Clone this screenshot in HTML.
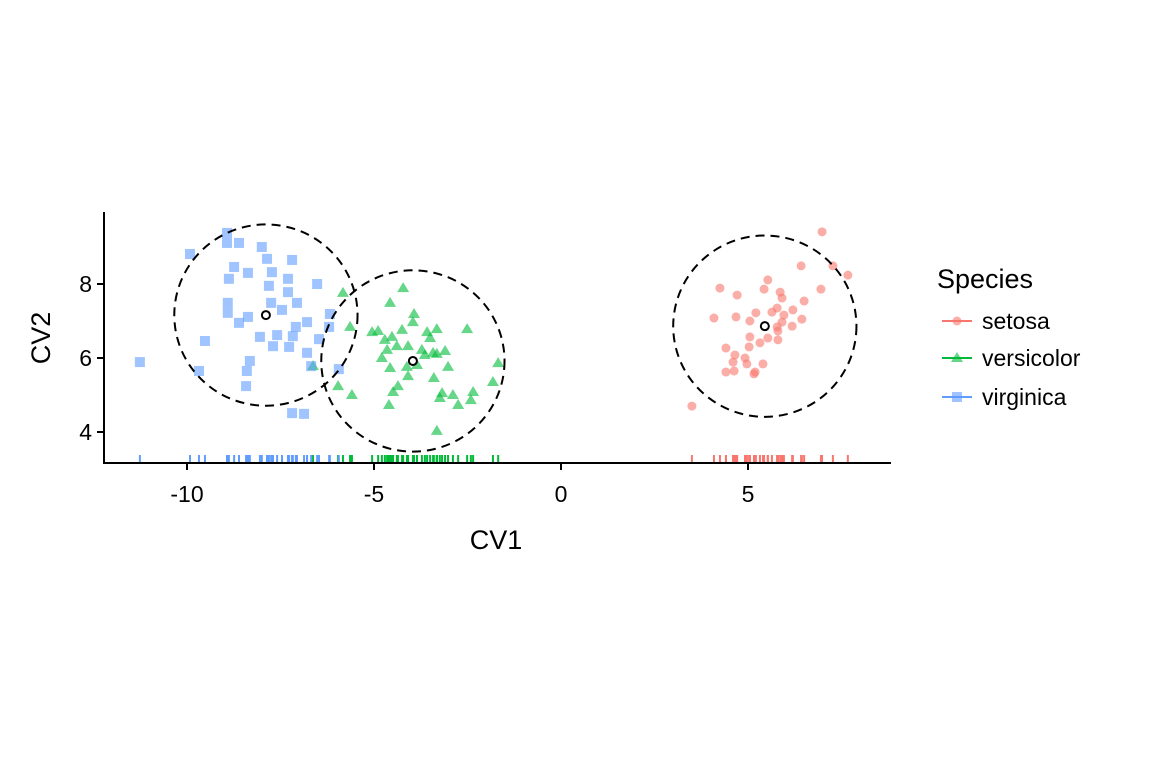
<!DOCTYPE html>
<html><head><meta charset="utf-8"><style>
body{margin:0;background:#fff}
svg text{font-family:"Liberation Sans",Arial,sans-serif;fill:#000}
</style></head><body>
<svg id="chart" width="1152" height="768" xmlns="http://www.w3.org/2000/svg">
<g id="marks"></g>
<g id="axes"></g>
<text x="496" y="549" font-size="27" text-anchor="middle">CV1</text>
<text transform="translate(50,338) rotate(-90)" font-size="27" text-anchor="middle">CV2</text>
<g>
<text x="937" y="288" font-size="27">Species</text>
<g>
<line x1="942" x2="972" y1="321" y2="321" stroke="#F8766D" stroke-width="2"/><circle cx="957" cy="321" r="4.5" fill="#F8766D" opacity="0.6"/>
<text x="982" y="329" font-size="23">setosa</text></g>
<g>
<line x1="942" x2="972" y1="358" y2="358" stroke="#00BA38" stroke-width="2"/><polygon points="957,352 963,362 951,362" fill="#00BA38" opacity="0.6"/>
<text x="982" y="366" font-size="23">versicolor</text></g>
<g>
<line x1="942" x2="972" y1="397" y2="397" stroke="#619CFF" stroke-width="2"/><rect x="952" y="392" width="10" height="10" fill="#619CFF" opacity="0.6"/>
<text x="982" y="405" font-size="23">virginica</text></g>
</g>
</svg>
<script>
const setosaX=[6.98,6.42,7.27,7.67,5.53,4.25,5.43,6.95,4.71,5.86,5.91,6.50,5.21,5.64,5.78,6.20,5.96,4.09,4.68,5.05,6.44,5.91,6.18,5.78,5.80,5.53,5.05,5.32,5.80,5.03,4.41,4.65,4.92,4.60,4.97,5.40,4.41,4.63,5.19,5.16,3.50];
const setosaY=[9.41,8.49,8.49,8.24,8.11,7.89,7.86,7.86,7.70,7.78,7.62,7.54,7.22,7.24,7.35,7.30,7.16,7.08,7.11,7.00,7.05,6.97,6.86,6.84,6.73,6.54,6.57,6.41,6.49,6.30,6.27,6.08,6.00,5.89,5.84,5.84,5.62,5.65,5.62,5.57,4.70];
const versiX=[-4.22,-5.83,-4.57,-3.93,-3.96,-5.64,-5.05,-4.89,-4.25,-3.58,-3.32,-2.51,-4.71,-4.52,-3.50,-4.39,-4.09,-3.72,-3.42,-3.10,-4.65,-4.79,-3.64,-3.32,-6.63,-4.57,-4.12,-3.85,-3.02,-1.68,-4.09,-3.40,-1.82,-5.96,-4.36,-4.49,-5.59,-3.18,-2.89,-2.35,-3.24,-2.41,-2.75,-4.60,-3.32];
const versiY=[7.89,7.76,7.49,7.19,6.97,6.84,6.70,6.73,6.76,6.70,6.78,6.78,6.49,6.57,6.54,6.32,6.32,6.22,6.14,6.19,6.22,6.00,6.08,6.11,5.78,5.73,5.76,5.81,5.76,5.86,5.51,5.46,5.35,5.24,5.24,5.08,5.00,5.05,5.00,5.08,4.92,4.86,4.73,4.73,4.03];
const virgX=[-8.93,-8.93,-8.61,-9.92,-8.00,-7.86,-7.19,-8.74,-8.37,-7.73,-8.88,-7.30,-6.52,-7.81,-7.30,-8.91,-7.75,-7.06,-8.91,-7.46,-8.37,-8.61,-6.79,-6.18,-7.09,-6.20,-8.05,-7.59,-7.17,-9.52,-6.47,-7.70,-7.27,-6.79,-8.32,-11.26,-9.68,-8.40,-6.68,-5.94,-8.42,-7.19,-6.87];
const virgY=[9.38,9.11,9.11,8.81,9.00,8.68,8.65,8.46,8.30,8.32,8.14,8.14,8.00,7.95,7.78,7.49,7.49,7.49,7.22,7.30,7.11,6.95,6.97,7.19,6.84,6.84,6.57,6.62,6.59,6.46,6.51,6.32,6.30,6.14,5.92,5.89,5.65,5.65,5.78,5.70,5.24,4.51,4.49];
const centroidX=[5.45,-3.96,-7.89];
const centroidY=[6.86,5.92,7.16];
const circleR=2.45;
const xTicks=[-10,-5,0,5];
const yTicks=[4,6,8];
const X=v=>561+v*37.4, Y=v=>580-v*37;
const NS="http://www.w3.org/2000/svg";
const marks=document.getElementById('marks'), axes=document.getElementById('axes');
function mk(tag,attrs,parent){const e=document.createElementNS(NS,tag);for(const k in attrs)e.setAttribute(k,attrs[k]);parent.appendChild(e);return e;}
const series=[[setosaX,setosaY,'#F8766D','circle','setosa'],[versiX,versiY,'#00BA38','tri','versicolor'],[virgX,virgY,'#619CFF','sq','virginica']];
series.forEach(([xs,ys,col,shape,name])=>{
  xs.forEach((xv,i)=>{
    const px=X(xv),py=Y(ys[i]);let e;
    if(shape==='circle')e=mk('circle',{cx:px,cy:py,r:4.5,fill:col,opacity:0.6},marks);
    else if(shape==='tri')e=mk('polygon',{points:`${px},${py-6} ${px+6},${py+4} ${px-6},${py+4}`,fill:col,opacity:0.6},marks);
    else e=mk('rect',{x:px-5,y:py-5,width:10,height:10,fill:col,opacity:0.6},marks);
    
    
    const r=mk('line',{x1:px,x2:px,y1:455,y2:463,stroke:col,'stroke-width':2},marks);
    
    
  });
});
centroidX.forEach((cx,i)=>{
  const c=mk('ellipse',{cx:X(cx),cy:Y(centroidY[i]),rx:circleR*37.4,ry:circleR*37,fill:'none',stroke:'#000','stroke-width':2,'stroke-dasharray':'9,6'},marks);
  
  
  const m=mk('circle',{cx:X(cx),cy:Y(centroidY[i]),r:4,fill:'#fff',stroke:'#000','stroke-width':2},marks);
  
  
});
const xa=mk('line',{x1:104,x2:891,y1:463,y2:463,stroke:'#000','stroke-width':2},axes);


const ya=mk('line',{x1:104,x2:104,y1:212,y2:464,stroke:'#000','stroke-width':2},axes);


xTicks.forEach(t=>{
  mk('line',{x1:X(t),x2:X(t),y1:463,y2:470,stroke:'#000','stroke-width':2},axes);
  const l=mk('text',{x:X(t),y:502,'font-size':23,'text-anchor':'middle'},axes);l.textContent=t;
  
  
});
yTicks.forEach(t=>{
  mk('line',{x1:97,x2:104,y1:Y(t),y2:Y(t),stroke:'#000','stroke-width':2},axes);
  const l=mk('text',{x:92,y:Y(t)+8,'font-size':23,'text-anchor':'end'},axes);l.textContent=t;
  
  
});
</script>
</body></html>
